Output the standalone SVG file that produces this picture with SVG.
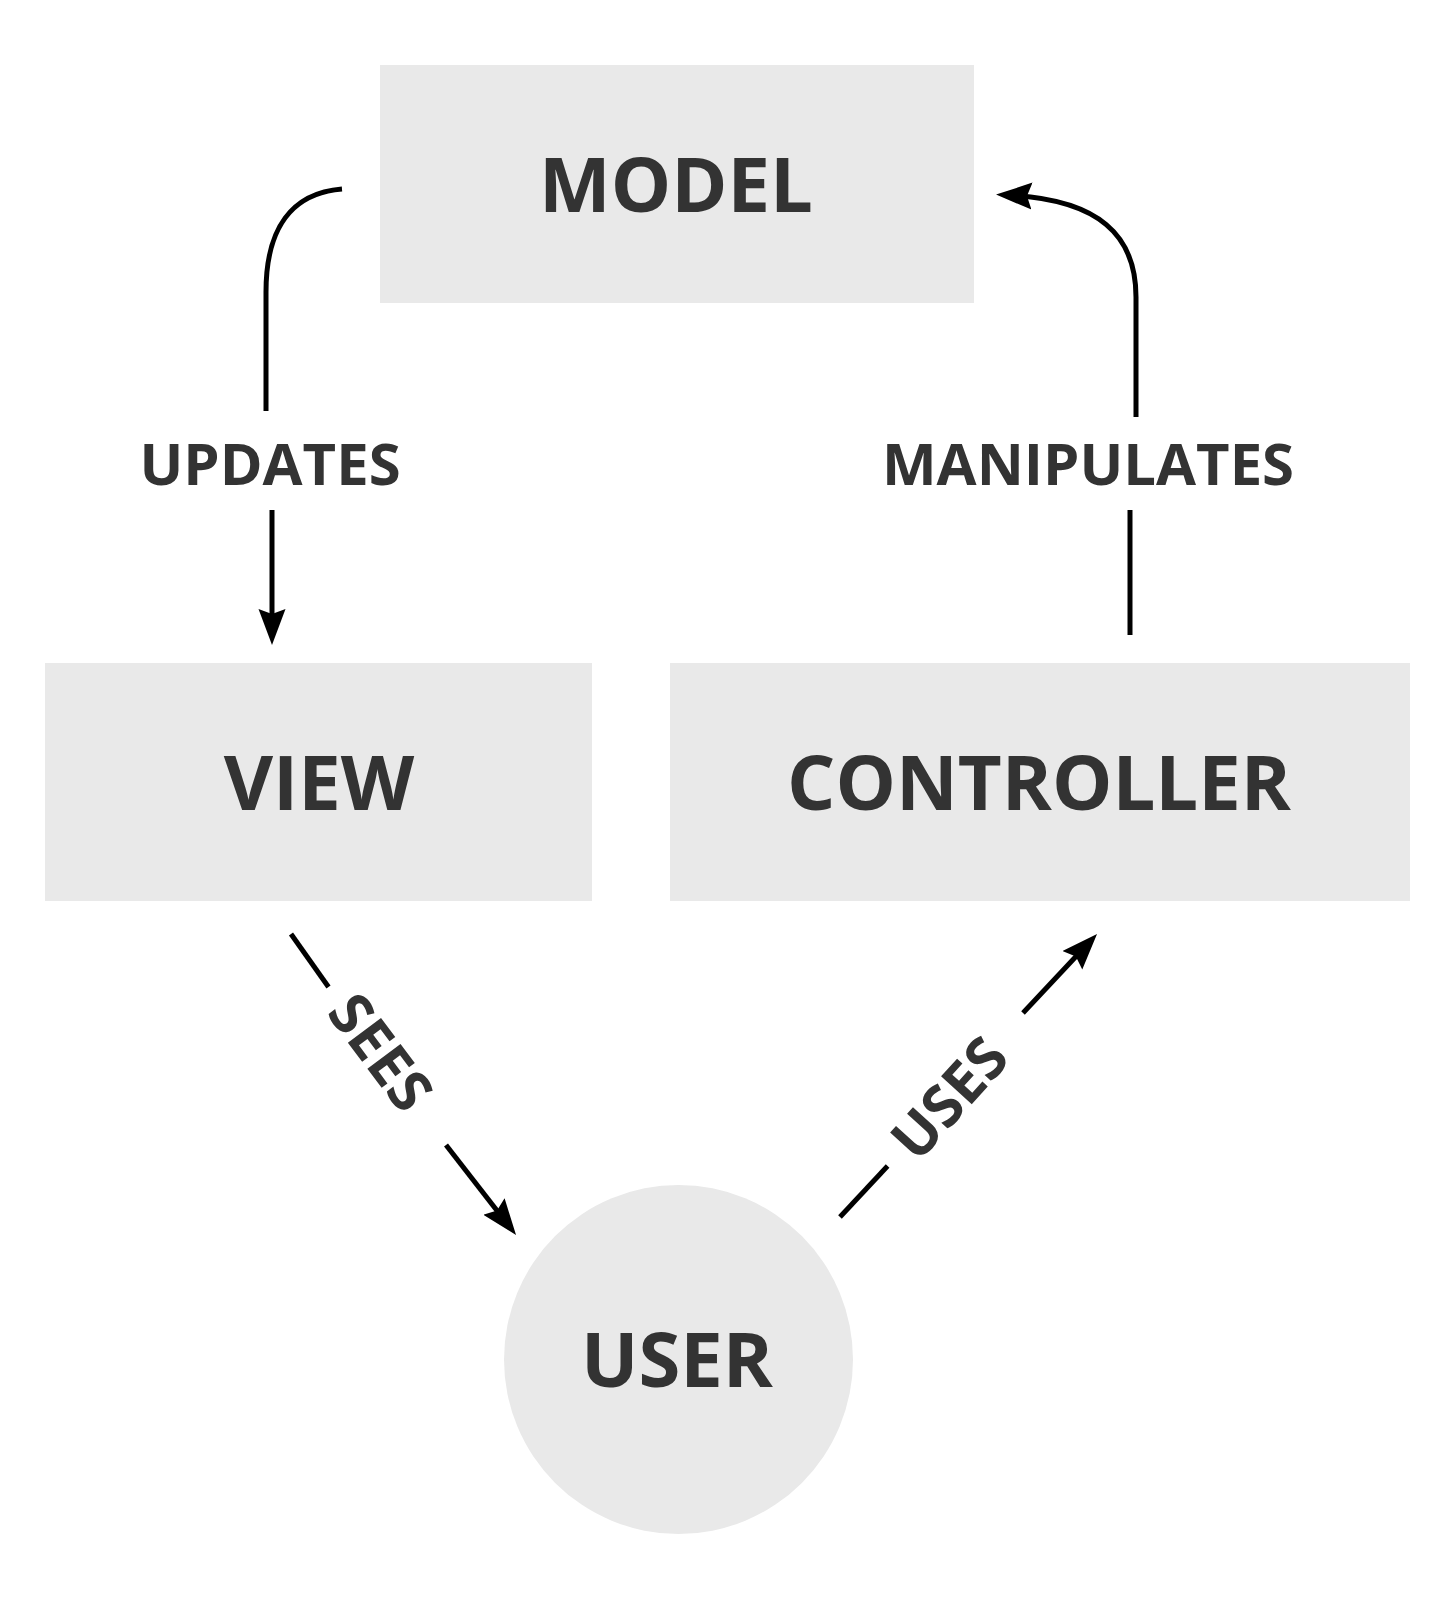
<svg xmlns="http://www.w3.org/2000/svg" width="1455" height="1600" viewBox="0 0 1455 1600">
<style>
.box{fill:#e9e9e9}
.big{font-family:"Open Sans","Noto Sans","Liberation Sans",sans-serif;font-weight:700;font-size:76px;fill:#333333;text-anchor:middle}
.lbl{font-family:"Open Sans","Noto Sans","Liberation Sans",sans-serif;font-weight:700;font-size:58px;fill:#333333;text-anchor:middle}
.ln{fill:none;stroke:#000;stroke-width:5}
</style>
<defs>
<marker id="arr" markerUnits="userSpaceOnUse" markerWidth="40" markerHeight="30" viewBox="0 0 40 30" refX="26" refY="13.5" orient="auto">
<path d="M0,0 L36,13.5 L0,27 L5,13.5 Z" fill="#000"/>
</marker>
</defs>
<rect x="0" y="0" width="1455" height="1600" fill="#ffffff"/>
<g id="model">
<rect class="box" x="380" y="65" width="594" height="238"/>
<text class="big" x="676" y="212">MODEL</text>
</g>
<g id="view">
<rect class="box" x="45" y="663" width="547" height="238"/>
<text class="big" x="319" y="810">VIEW</text>
</g>
<g id="controller">
<rect class="box" x="670" y="663" width="740" height="238"/>
<text class="big" x="1039" y="810">CONTROLLER</text>
</g>
<g id="user">
<circle class="box" cx="678.5" cy="1359.5" r="174.5"/>
<text class="big" x="677" y="1387">USER</text>
</g>
<g id="connectors">
<path class="ln" d="M342,189 C292,193 266,228 266,292 L266,411"/>
<path class="ln" d="M272,510 L272,635" marker-end="url(#arr)"/>
<text class="lbl" x="270" y="485">UPDATES</text>
<path class="ln" d="M1130,635 L1130,510"/>
<path class="ln" d="M1136,417 L1136,297 C1136,236 1100,199 1006,195" marker-end="url(#arr)"/>
<text class="lbl" x="1088" y="485">MANIPULATES</text>
<path class="ln" d="M291,934 L328.5,987"/>
<path class="ln" d="M446,1145 L509.9,1227.1" marker-end="url(#arr)"/>
<text class="lbl" transform="translate(381,1052) rotate(53.2)" x="0" y="21">SEES</text>
<path class="ln" d="M840,1217 L887.6,1166"/>
<path class="ln" d="M1023,1013 L1090.2,941.3" marker-end="url(#arr)"/>
<text class="lbl" transform="translate(949,1098) rotate(-47.8)" x="0" y="21">USES</text>
</g>
</svg>
